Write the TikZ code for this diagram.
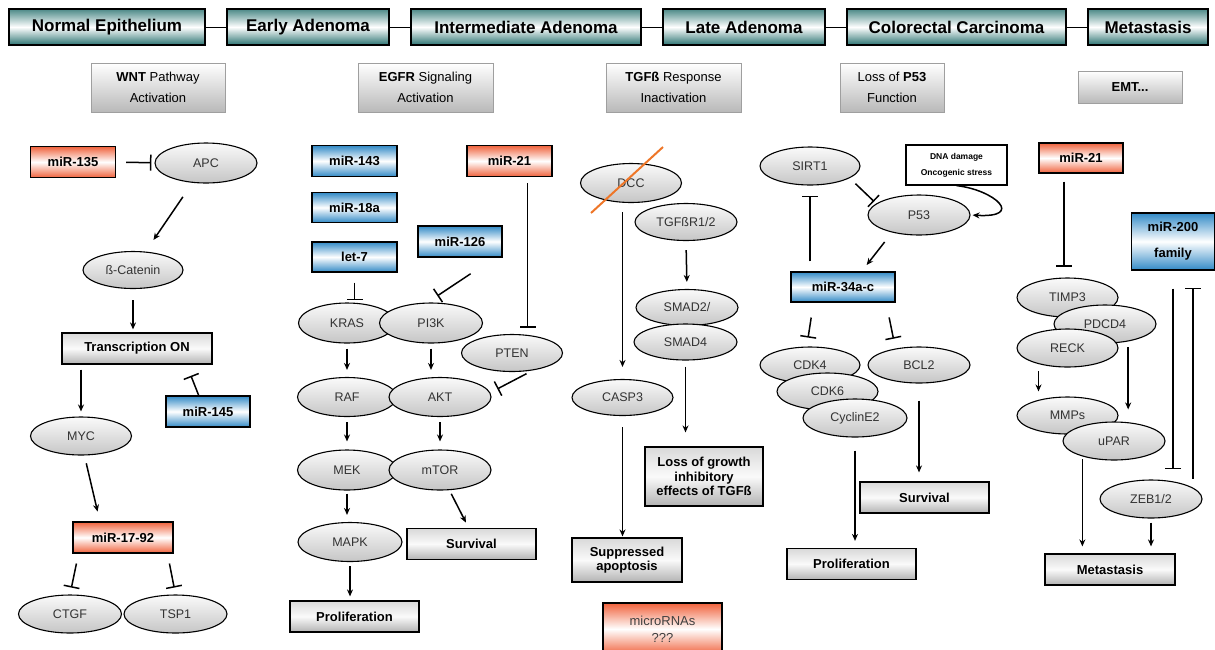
\documentclass[tikz,border=0pt]{standalone}
\usepackage{fontspec}
\setmainfont{Liberation Sans}
\usetikzlibrary{shapes.geometric,arrows.meta}

\definecolor{hdrteal}{RGB}{44,116,114}
\definecolor{mirred}{RGB}{240,98,60}
\definecolor{mirblue}{RGB}{50,138,198}
\definecolor{strikeorange}{RGB}{238,118,40}

\begin{document}
\begin{tikzpicture}[x=1pt,y=-1pt,
    stage/.style={draw,line width=1.6pt,inner sep=0pt,minimum height=36pt,
      top color=hdrteal!85,bottom color=hdrteal,middle color=white,
      font=\fontsize{17}{19}\selectfont\bfseries},
    pathway/.style={draw=gray!75,line width=0.8pt,inner sep=0pt,minimum height=49pt,
      top color=white,bottom color=gray!55,align=center,
      font=\fontsize{13}{21}\selectfont},
    gene/.style={ellipse,draw,line width=1.1pt,inner sep=0pt,minimum width=101pt,
      minimum height=38pt,top color=gray!4,bottom color=gray!45,text=black!80,
      font=\fontsize{12.5}{14}\selectfont},
    mirup/.style={draw,line width=1.4pt,inner sep=0pt,minimum width=85pt,
      minimum height=31pt,top color=mirred,bottom color=mirred,middle color=white,
      font=\fontsize{13}{15}\selectfont\bfseries,align=center},
    mirdown/.style={mirup,top color=mirblue,bottom color=mirblue,middle color=white},
    outcome/.style={draw,line width=1.2pt,inner sep=0pt,minimum width=129pt,
      minimum height=31pt,top color=gray!30,bottom color=gray!60,middle color=gray!4,
      font=\fontsize{13}{14.5}\selectfont\bfseries,align=center},
    act/.style={line width=1.5pt,-{Stealth[length=7pt,width=6pt]}},
    inh/.style={line width=1.5pt,-{Bar[width=16pt,line width=1.5pt]}},
    strike/.style={draw=strikeorange,line width=2pt}]
  \useasboundingbox (0,0) rectangle (1215,649);

  % progression stages along the top
  \foreach \n/\x/\w/\t in {hNE/107/196/Normal Epithelium,hEA/308/162/Early Adenoma,
      hIA/526/230/Intermediate Adenoma,hLA/744/162/Late Adenoma,
      hCC/956.5/219/Colorectal Carcinoma,hM/1148/120/Metastasis}
    \node[stage,minimum width=\w pt] (\n) at (\x,27) {\t};
  \foreach \a/\b in {hNE/hEA,hEA/hIA,hIA/hLA,hLA/hCC,hCC/hM}
    \draw[line width=1pt] (\a.east) -- (\b.west);

  \node[pathway,minimum width=134pt] (pWnt) at (158,87.5) {\textbf{WNT} Pathway\\Activation};
  \node[pathway,minimum width=135pt] (pEgfr) at (425.5,87.5) {\textbf{EGFR} Signaling\\Activation};
  \node[pathway,minimum width=135pt] (pTgf) at (673.5,87.5) {\textbf{TGFß} Response\\Inactivation};
  \node[pathway,minimum width=104pt] (pP53) at (892,87.5) {Loss of \textbf{P53}\\Function};
  \node[pathway,minimum width=104pt,minimum height=32pt] (pEmt) at (1130,87) {\textbf{EMT...}};

  % WNT
  \node[mirup] (m135) at (73,162) {miR-135};
  \node[gene,minimum width=102pt,minimum height=40pt] (apc) at (206,163) {APC};
  \node[gene,minimum width=100pt,minimum height=37pt] (cat) at (133,270) {ß-Catenin};
  \node[outcome,minimum width=150pt] (tON) at (137,348.5) {Transcription ON};
  \node[mirdown,minimum width=84pt] (m145) at (208,411.5) {miR-145};
  \node[gene] (myc) at (81,436) {MYC};
  \node[mirup,minimum width=100pt] (m1792) at (123,537.5) {miR-17-92};
  \node[gene,minimum width=103pt] (ctgf) at (70,614) {CTGF};
  \node[gene,minimum width=103pt] (tsp1) at (175.5,614) {TSP1};

  \draw[inh,shorten <=10pt,shorten >=3pt] (m135) -- (apc);
  \draw[act,shorten <=17pt,shorten >=14pt] (apc) -- (cat);
  \draw[act,shorten <=11pt,shorten >=3pt] (cat.south) -- (cat.south |- tON.north);
  \draw[act,shorten <=5pt,shorten >=5pt] (tON.south -| myc) -- (myc.north);
  \draw[inh,shorten >=12pt] (m145.120) -- (tON.-18);
  \draw[act,shorten <=8pt,shorten >=10pt] (myc.-80) -- (m1792.145);
  \draw[inh,shorten <=10pt,shorten >=7pt] (m1792.-160) -- (ctgf.north);
  \draw[inh,shorten <=10pt,shorten >=7pt] (m1792.-20) -- (tsp1.north);

  % EGFR
  \node[mirdown] (m143) at (354.5,161) {miR-143};
  \node[mirdown,minimum height=30pt] (m18a) at (354.5,207.5) {miR-18a};
  \node[mirdown,minimum height=30pt] (let7) at (354.5,257) {let-7};
  \node[mirdown,minimum width=84pt] (m126) at (460,241.5) {miR-126};
  \node[mirup] (m21a) at (509.5,161) {miR-21};
  \node[gene,minimum width=97pt,minimum height=40pt] (kras) at (347,323) {KRAS};
  \node[gene,minimum width=103pt,minimum height=40pt] (pi3k) at (431,323) {PI3K};
  \node[gene,minimum height=37pt] (pten) at (512,353) {PTEN};
  \node[gene,minimum width=99pt,minimum height=39pt] (raf) at (347,397) {RAF};
  \node[gene,minimum width=102pt,minimum height=39pt] (akt) at (440,397) {AKT};
  \node[gene,minimum width=99pt,minimum height=40pt] (mek) at (347,470) {MEK};
  \node[gene,minimum width=102pt,minimum height=40pt] (mtor) at (440,470) {mTOR};
  \node[gene,minimum width=104pt,minimum height=39pt] (mapk) at (350,542) {MAPK};
  \node[outcome] (surv1) at (471.5,544) {Survival};
  \node[outcome] (prolif1) at (354.5,616.5) {Proliferation};

  \draw[inh,shorten <=10pt,shorten >=2pt] (let7.south) -- (let7.south |- kras.north);
  \draw[inh,shorten <=29pt,shorten >=12pt] (m126.-25) -- (pi3k.100);
  \draw[inh,shorten <=6pt,shorten >=6pt] (m21a.-42) -- (m21a.-42 |- pten.north);
  \draw[inh,shorten <=7pt,shorten >=8pt] (pten.-40) -- (akt.5);
  \draw[act,shorten <=5pt,shorten >=7pt] (kras.south) -- (raf.north);
  \draw[act,shorten <=5pt,shorten >=7pt] (pi3k.south) -- (pi3k.south |- akt.north);
  \draw[act,shorten <=5pt,shorten >=8pt] (raf.south) -- (mek.north);
  \draw[act,shorten <=5pt,shorten >=8pt] (akt.south) -- (mtor.north);
  \draw[act,shorten <=3pt,shorten >=7pt] (mek.south) -- (mek.south |- mapk.north);
  \draw[act,shorten <=4pt,shorten >=6pt] (mtor.-65) -- (surv1.100);
  \draw[act,shorten <=4pt,shorten >=4pt] (mapk.south) -- (mapk.south |- prolif1.north);

  % TGFb
  \node[gene,minimum height=39pt] (dcc) at (631,183) {DCC};
  \draw[strike] ([shift={(-40,30)}]dcc.center) -- ([shift={(32,-36)}]dcc.center);
  \node[gene,minimum width=102pt,minimum height=37pt] (tgfr) at (686,222) {TGFßR1/2};
  \node[gene,minimum width=102pt,minimum height=36pt] (smad2) at (687,307.5) {SMAD2/};
  \node[gene,minimum width=103pt,minimum height=36pt] (smad4) at (685.5,342) {SMAD4};
  \node[outcome,minimum width=118pt,minimum height=59pt] (loss) at (704,476.5) {Loss of growth\\inhibitory\\effects of TGFß};
  \node[gene,minimum height=36pt] (casp3) at (622.5,397.5) {CASP3};
  \node[outcome,minimum width=110pt,minimum height=44pt] (supp) at (627,560) {Suppressed\\apoptosis};
  \node[mirup,minimum width=119pt,minimum height=52pt,font=\fontsize{13}{17}\selectfont,text=black!75] (mirq) at (662.5,629) {microRNAs\\???};

  \draw[act,shorten <=9pt,shorten >=12pt] (casp3.north |- dcc.south) -- (casp3.north);
  \draw[act,shorten <=9pt,shorten >=7pt] (tgfr.south) -- (smad2.north);
  \draw[act,shorten <=6pt,shorten >=14pt] (smad4.south) -- (smad4.south |- loss.north);
  \draw[act,shorten <=11pt,shorten >=1pt] (casp3.south) -- (casp3.south |- supp.north);

  % P53
  \node[gene,minimum width=100pt] (sirt1) at (810,166) {SIRT1};
  \node[draw,line width=1.2pt,fill=white,minimum width=101pt,minimum height=40pt,align=center,
    font=\fontsize{8.5}{16}\selectfont\bfseries] (dna) at (956.5,165) {DNA damage\\Oncogenic stress};
  \node[gene,minimum width=102pt,minimum height=40pt] (p53) at (919,215) {P53};
  \node[mirdown,minimum width=104pt,minimum height=30pt] (m34) at (843,287) {miR-34a-c};
  \node[gene,minimum width=100pt,minimum height=36pt] (cdk4) at (810,365) {CDK4};
  \node[gene,minimum height=37pt] (cdk6) at (827.5,391.5) {CDK6};
  \node[gene,minimum width=104pt] (cyce2) at (855,418) {CyclinE2};
  \node[gene,minimum width=102pt,minimum height=36pt] (bcl2) at (919,365) {BCL2};
  \node[outcome] (prolif2) at (851.5,564) {Proliferation};
  \node[outcome] (surv2) at (924.5,497.5) {Survival};

  \draw[inh,shorten <=8pt,shorten >=3pt] (sirt1.-17) -- (p53.165);
  \draw[act,shorten >=2pt] (dna.south) .. controls (995,190) and (1025,218) .. (p53.east);
  \draw[act,shorten <=12pt,shorten >=8pt] (p53.-147) -- (m34.40);
  \draw[inh,shorten <=10pt,shorten >=10pt] (sirt1.south |- m34.north) -- (sirt1.south);
  \draw[inh,shorten <=15pt,shorten >=9pt] (m34.-152) -- (cdk4.100);
  \draw[inh,shorten <=15pt,shorten >=10pt] (m34.-20) -- (bcl2.145);
  \draw[act,shorten <=13pt,shorten >=7pt] (cyce2.south) -- (cyce2.south |- prolif2.north);
  \draw[act,shorten <=17pt,shorten >=9pt] (bcl2.south) -- (bcl2.south |- surv2.north);

  % EMT
  \node[mirup,minimum width=84pt,minimum height=30pt] (m21b) at (1081,158) {miR-21};
  \node[mirdown,minimum width=83pt,minimum height=57pt,font=\fontsize{13}{26}\selectfont\bfseries] (m200) at (1173,241.5) {miR-200\\family};
  \node[gene,minimum height=39pt] (timp3) at (1067.5,297.5) {TIMP3};
  \node[gene,minimum width=102pt] (pdcd4) at (1105,324) {PDCD4};
  \node[gene] (reck) at (1067.5,348) {RECK};
  \node[gene,minimum height=37pt] (mmps) at (1067.5,415.5) {MMPs};
  \node[gene,minimum width=102pt] (upar) at (1114,441) {uPAR};
  \node[gene,minimum width=102pt] (zeb) at (1151,499) {ZEB1/2};
  \node[outcome,minimum width=130pt] (meta) at (1110,569.5) {Metastasis};

  \draw[inh,shorten <=8pt,shorten >=11pt] (timp3.100 |- m21b.south) -- (timp3.100);
  \draw[act,shorten <=7pt,shorten >=5pt] (reck.-151) -- (reck.-151 |- mmps.north);
  \draw[act,shorten <=6pt,shorten >=12pt] (pdcd4.-37) -- (pdcd4.-37 |- upar.north);
  \draw[act,shorten <=3pt,shorten >=7pt] (upar.-154) -- (upar.-154 |- meta.north);
  \draw[act,shorten <=4pt,shorten >=7pt] (zeb.south) -- (zeb.south |- meta.north);
  \draw[inh,shorten <=18pt,shorten >=10pt] (m200.south) -- (m200.south |- zeb.north);
  \draw[inh,shorten <=9pt,shorten >=17pt] (zeb.15) -- (zeb.15 |- m200.south);
\end{tikzpicture}
\end{document}
